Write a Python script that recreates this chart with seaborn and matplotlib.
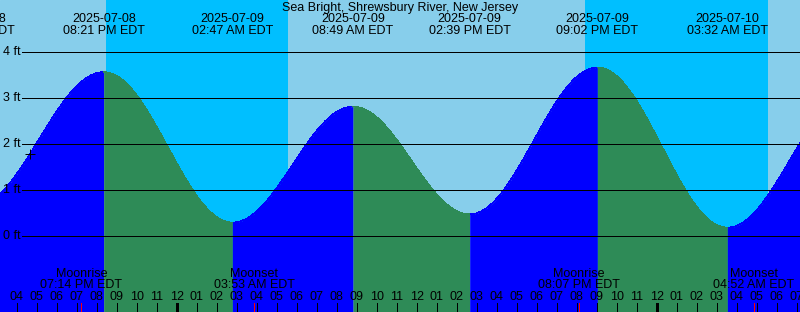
import numpy as np
import pandas as pd
import matplotlib
matplotlib.use("Agg")
import matplotlib.pyplot as plt
import matplotlib.transforms as mtransforms
import seaborn as sns

# ---------------- data ----------------
title = "Sea Bright, Shrewsbury River, New Jersey"
ref_day = pd.Timestamp("2025-07-09 00:00")

tide_times = ["2025-07-08 13:53", "2025-07-08 20:21", "2025-07-09 02:47",
              "2025-07-09 08:49", "2025-07-09 14:39", "2025-07-09 21:02",
              "2025-07-10 03:32", "2025-07-10 09:45"]
tide_levels = [0.65, 3.57, 0.30, 2.82, 0.48, 3.67, 0.19, 3.10]

sunsets = ["2025-07-08 20:28", "2025-07-09 20:25"]
sunrises = ["2025-07-09 05:34", "2025-07-10 05:35"]

moon_events = ["Moonrise", "Moonset", "Moonrise", "Moonset"]
moon_times = ["2025-07-08 19:14", "2025-07-09 03:53",
              "2025-07-09 20:07", "2025-07-10 04:52"]

now_time = "2025-07-08 16:40"
level_lines = [0, 1, 2, 3, 4]

# ---------------- helpers ----------------
def hrs(ts):
    return (pd.Timestamp(ts) - ref_day) / pd.Timedelta(hours=1)

W, H = 800, 312
PX_PER_H = 20.0
X0_PX = 176.7          # pixel of midnight 2025-07-09
PX_PER_FT = 46.0
Y0_PX = 236.3          # pixel of 0 ft
xmin = (0 - X0_PX) / PX_PER_H
xmax = (W - X0_PX) / PX_PER_H
ytop = Y0_PX / PX_PER_FT
ybot = -(H - Y0_PX) / PX_PER_FT
PX = 0.72  # one pixel in points at 100 dpi

def py(p):  # pixel row -> data y
    return ytop - p / PX_PER_FT

t_ext = np.array([hrs(t) for t in tide_times])
l_ext = np.array(tide_levels, dtype=float)

def level_at(t):
    t = np.atleast_1d(t)
    out = np.empty_like(t, dtype=float)
    for k, tv in enumerate(t):
        i = np.searchsorted(t_ext, tv) - 1
        i = min(max(i, 0), len(t_ext) - 2)
        f = (tv - t_ext[i]) / (t_ext[i + 1] - t_ext[i])
        out[k] = l_ext[i] + (l_ext[i + 1] - l_ext[i]) * (1 - np.cos(np.pi * f)) / 2
    return out

# ---------------- figure ----------------
sns.set_theme(style="white")
plt.rcParams["font.family"] = ["Liberation Sans", "DejaVu Sans"]
plt.rcParams["text.color"] = "black"

fig = plt.figure(figsize=(W / 100, H / 100), dpi=100)
ax = fig.add_axes([0, 0, 1, 1])
ax.set_xlim(xmin, xmax)
ax.set_ylim(ybot, ytop)
ax.axis("off")

DAY = "#87CEEB"
NIGHT = "#00BFFF"
RISE = "#0000FF"
FALL = "#2E8B57"
TXT = dict(fontsize=9, color="black", zorder=7)

ax.add_patch(plt.Rectangle((xmin, ybot), xmax - xmin, ytop - ybot,
                           color=DAY, zorder=0))
for ss, sr in zip(sunsets, sunrises):
    ax.axvspan(hrs(ss), hrs(sr), color=NIGHT, lw=0, zorder=1,
               antialiased=False)

# tide curve segments
rows = []
for i in range(len(t_ext) - 1):
    a, b = t_ext[i], t_ext[i + 1]
    if b < xmin or a > xmax:
        continue
    tt = np.linspace(a, b, 300)
    lv = level_at(tt)
    phase = "rise" if l_ext[i + 1] > l_ext[i] else "fall"
    ax.fill_between(tt, lv, ybot, color=RISE if phase == "rise" else FALL,
                    lw=0, zorder=2, antialiased=False)
    for x_, y_ in zip(tt, lv):
        rows.append({"t": x_, "level": y_, "phase": phase, "seg": i})
curve = pd.DataFrame(rows)
sns.lineplot(data=curve, x="t", y="level", hue="phase", units="seg",
             estimator=None, palette={"rise": RISE, "fall": FALL},
             lw=0.4, legend=False, ax=ax, zorder=3, antialiased=False)

# level lines and labels
bl = mtransforms.blended_transform_factory(ax.transAxes, ax.transData)
for lv in level_lines:
    ax.plot([22 / W, 1.0], [lv, lv], transform=bl, color="black",
            lw=PX, zorder=4, solid_capstyle="butt", antialiased=False)
    ax.text(3 / W, lv, f"{lv} ft", transform=bl, ha="left", va="center",
            **TXT)

# current-time marker
tn = hrs(now_time)
ax.plot([tn], level_at(tn), marker="+", ms=6.5, mew=PX, color="black",
        zorder=6, antialiased=False)

# tide extreme labels (only those that reach into the picture)
for t, ts in zip(t_ext, tide_times):
    if t > xmax:
        continue
    stamp = pd.Timestamp(ts)
    ax.text(t, py(19.5), stamp.strftime("%Y-%m-%d"), ha="center",
            va="center", clip_on=True, **TXT)
    ax.text(t, py(31.5), stamp.strftime("%I:%M %p") + " EDT", ha="center",
            va="center", clip_on=True, **TXT)

ax.text(0.5, py(7.5), title, transform=bl, ha="center", va="center", **TXT)

# moon labels
for name, ts in zip(moon_events, moon_times):
    t = hrs(ts)
    stamp = pd.Timestamp(ts)
    ax.text(t, py(274), name, ha="center", va="center", **TXT)
    ax.text(t, py(285.5), stamp.strftime("%I:%M %p") + " EDT", ha="center",
            va="center", **TXT)
    ax.plot([t, t], [py(303), py(312)], color="red", lw=PX, zorder=6,
            solid_capstyle="butt", antialiased=False)

# hour ticks
for h in range(int(np.ceil(xmin)), int(np.floor(xmax)) + 1):
    hod = h % 24
    lab = f"{(hod % 12) or 12:02d}"
    midnight = hod == 0
    ax.plot([h, h], [py(303), py(312)], color="black",
            lw=3 * PX if midnight else PX, zorder=6, solid_capstyle="butt",
            antialiased=False)
    ax.text(h, py(297), lab, ha="center", va="center", **TXT)

fig.savefig("out.png", dpi=100)
